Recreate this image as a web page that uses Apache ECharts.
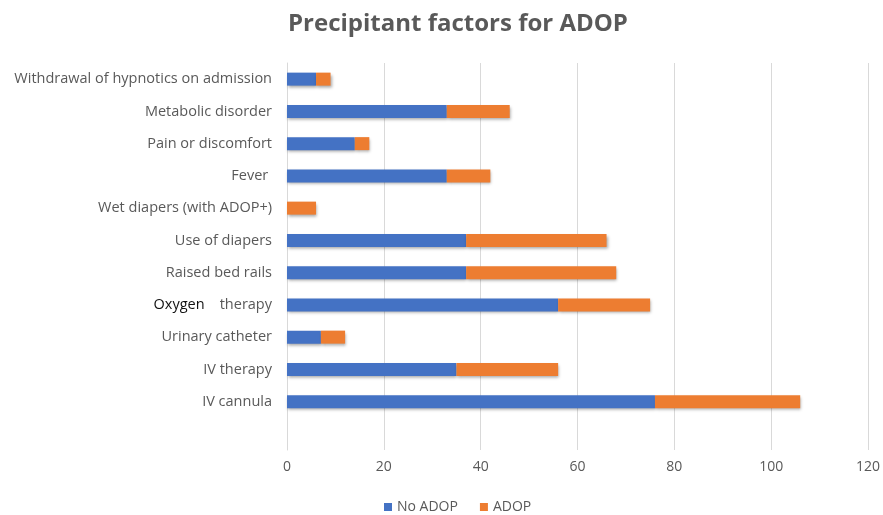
<!DOCTYPE html>
<html>
<head>
<meta charset="utf-8">
<script src="https://cdn.jsdelivr.net/npm/echarts@6/dist/echarts.min.js"></script>
<style>html,body{margin:0;padding:0;background:#fff;}#c{width:883px;height:515px;}</style>
</head>
<body>
<div id="c"></div>
<script>
// categories bottom-to-top (first entry is the empty row at the bottom)
var categories = ['', 'IV cannula', 'IV therapy', 'Urinary catheter', 'Oxygen therapy', 'Raised bed rails',
  'Use of diapers', 'Wet diapers (with ADOP+)', 'Fever ', 'Pain or discomfort', 'Metabolic disorder',
  'Withdrawal of hypnotics on admission'];
var noAdop = [null, 76, 35, 7, 56, 37, 37, 0, 33, 14, 33, 6];
var adop   = [null, 30, 21, 5, 19, 31, 29, 6, 9, 3, 13, 3];
var xTicks = [0, 20, 40, 60, 80, 100, 120];

var chart = echarts.init(document.getElementById('c'));
var barShadow = {shadowColor: 'rgba(0,0,0,0.35)', shadowBlur: 3, shadowOffsetX: 1, shadowOffsetY: 2};
chart.setOption({
  animation: false,
  title: {
    text: 'Precipitant factors for ADOP', left: 283, top: 7,
    textStyle: {fontFamily: 'Open Sans', fontWeight: 'bold', fontSize: 24, color: '#595959'}
  },
  legend: {
    top: 495, left: 379, itemWidth: 8, itemHeight: 8, itemGap: 22, icon: 'rect',
    textStyle: {fontFamily: 'Open Sans', fontSize: 14, color: '#595959'},
    data: ['No ADOP', 'ADOP']
  },
  grid: {left: 287, right: 14, top: 63, bottom: 65, containLabel: false},
  xAxis: {
    type: 'value', min: xTicks[0], max: xTicks[xTicks.length - 1], interval: 20,
    axisLine: {show: false}, axisTick: {show: false},
    axisLabel: {margin: 10, fontFamily: 'Open Sans', fontSize: 14, color: '#595959'},
    splitLine: {lineStyle: {color: '#d9d9d9', width: 1}}
  },
  yAxis: {
    type: 'category', data: categories,
    axisLine: {show: true, lineStyle: {color: '#d9d9d9'}}, axisTick: {show: false},
    axisLabel: {
      margin: 15, fontFamily: 'Open Sans', fontSize: 14.5, color: '#595959',
      formatter: function (v) {
        if (v === 'Oxygen therapy') return '{b|Oxygen}    therapy';
        return v;
      },
      rich: {b: {fontFamily: 'Open Sans', fontSize: 14.5, color: '#111'}}
    }
  },
  series: [
    {name: 'No ADOP', type: 'bar', stack: 's', data: noAdop, barWidth: 13,
     itemStyle: Object.assign({color: '#4472C4'}, barShadow)},
    {name: 'ADOP', type: 'bar', stack: 's', data: adop, barWidth: 13,
     itemStyle: Object.assign({color: '#ED7D31'}, barShadow)}
  ]
});
</script>
</body>
</html>
